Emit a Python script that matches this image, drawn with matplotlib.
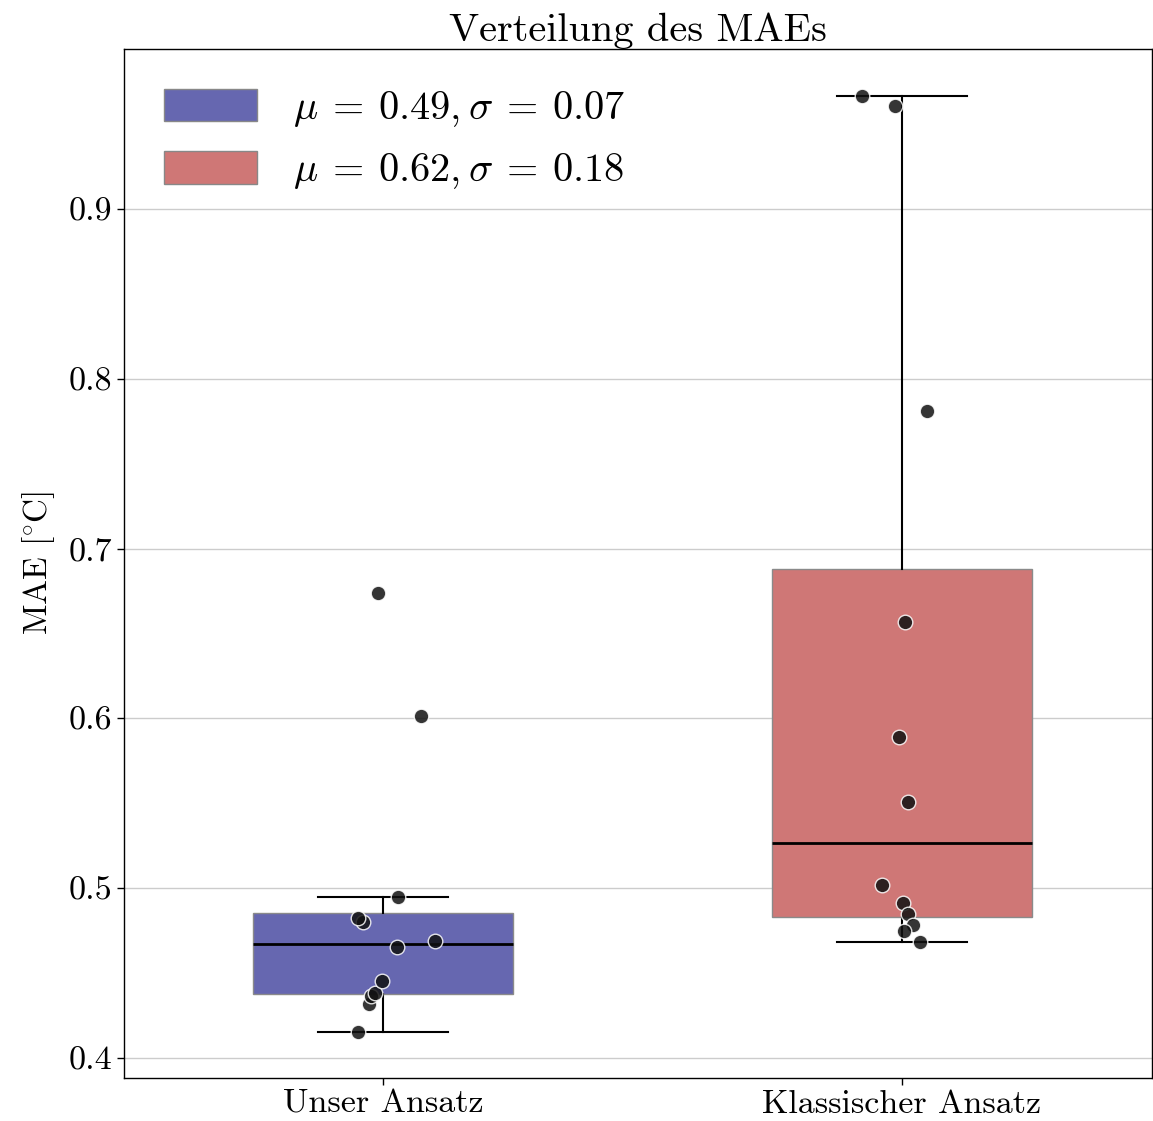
import matplotlib
matplotlib.use("Agg")
import matplotlib.pyplot as plt
import matplotlib.patches as mpatches
import numpy as np

categories = ["Unser Ansatz", "Klassischer Ansatz"]
mae_ours = [0.4153, 0.4318, 0.4365, 0.4383, 0.4453, 0.4654, 0.4689, 0.4800, 0.4824, 0.4948, 0.6014, 0.6739]
mae_classic = [0.9665, 0.9607, 0.7810, 0.6568, 0.5890, 0.5508, 0.5019, 0.4913, 0.4848, 0.4783, 0.4748, 0.4683]
# horizontal jitter of the strip points (category units)
jitter_ours = [-0.048, -0.027, -0.023, -0.015, -0.002, 0.027, 0.100, -0.039, -0.048, 0.029, 0.073, -0.010]
jitter_classic = [-0.077, -0.013, 0.048, 0.006, -0.006, 0.012, -0.039, 0.002, 0.012, 0.021, 0.004, 0.035]
legend_labels = [r"$\mu\:=\:0.49, \sigma\:=\:0.07$", r"$\mu\:=\:0.62, \sigma\:=\:0.18$"]
colors = ["#6667B0", "#CF7776"]

plt.rcParams["font.family"] = ["cmr10", "DejaVu Serif"]
plt.rcParams["mathtext.fontset"] = "cm"
plt.rcParams["axes.formatter.use_mathtext"] = True

fig = plt.figure(figsize=(11.53, 11.21), dpi=100)
ax = fig.add_axes([124 / 1153, 1 - 1078 / 1121, (1152 - 124) / 1153, (1078 - 49) / 1121])

data = [mae_ours, mae_classic]
bp = ax.boxplot(data, positions=[0, 1], widths=0.5, patch_artist=True, showfliers=False,
                whis=1.5, zorder=2,
                medianprops=dict(color="black", lw=2),
                whiskerprops=dict(color="black", lw=1.5),
                capprops=dict(color="black", lw=1.5),
                boxprops=dict(edgecolor="#8a8a8a", lw=1))
for patch, c in zip(bp["boxes"], colors):
    patch.set_facecolor(c)

for i, (vals, jit) in enumerate([(mae_ours, jitter_ours), (mae_classic, jitter_classic)]):
    ax.scatter(np.array(jit) + i, vals, s=110, color="#111111", alpha=0.85,
               edgecolors="white", linewidths=1, zorder=4)

ax.set_xlim(-0.499, 1.482)
ax.set_ylim(0.3882, 0.9942)
ax.set_xticks([0, 1])
ax.set_xticklabels(categories)
ax.set_yticks([0.4, 0.5, 0.6, 0.7, 0.8, 0.9])
ax.set_yticklabels(["0.4", "0.5", "0.6", "0.7", "0.8", "0.9"])
ax.tick_params(labelsize=24.5, length=5, width=1)
ax.yaxis.grid(True, color="#cccccc", lw=1)
ax.set_axisbelow(True)
for s in ax.spines.values():
    s.set_color("black")
    s.set_linewidth(1)

ax.set_ylabel(r"MAE [$\!^\circ\!$C]", fontsize=24, labelpad=8)
ax.set_title("Verteilung des MAEs", fontsize=29, pad=6)

handles = [mpatches.Patch(facecolor=c, edgecolor="#888888", lw=1) for c in colors]
ax.legend(handles, legend_labels, loc="upper left", fontsize=29, frameon=False,
          handlelength=2.3, handleheight=0.85, borderaxespad=0.6, labelspacing=0.55,
          handletextpad=0.9)

fig.savefig("out.png", dpi=100)
